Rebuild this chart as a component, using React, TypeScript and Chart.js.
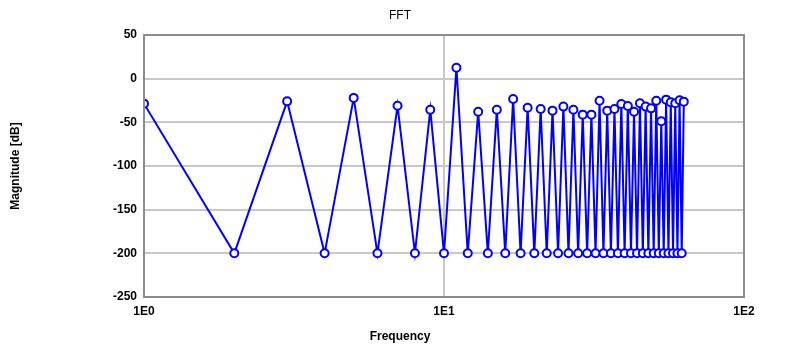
import React, { useEffect, useRef } from "react";
import { Chart, registerables } from "chart.js";

Chart.register(...registerables);

const frequencies = [
  1, 2, 3, 4, 5, 6, 7, 8, 9, 10, 11, 12, 13, 14, 15, 16, 17, 18, 19, 20, 21,
  22, 23, 24, 25, 26, 27, 28, 29, 30, 31, 32, 33, 34, 35, 36, 37, 38, 39, 40,
  41, 42, 43, 44, 45, 46, 47, 48, 49, 50, 51, 52, 53, 54, 55, 56, 57, 58, 59,
  60, 61, 62, 63,
];

const magnitudes = [
  -28.6, -200, -26, -200, -22, -200, -31, -200, -35.5, -200, 12.6, -200,
  -37.8, -200, -35.5, -200, -23.3, -200, -33.2, -200, -34.7, -200, -36.6,
  -200, -32, -200, -35.5, -200, -41.2, -200, -41.2, -200, -25.2, -200, -36.6,
  -200, -34.7, -200, -29, -200, -31.3, -200, -37.8, -200, -28.2, -200, -32,
  -200, -34, -200, -25.2, -200, -48.8, -200, -24, -200, -27, -200, -28.2,
  -200, -24.8, -200, -26.3,
];

const xTickValues = [1, 10, 100];
const xTickLabels = ["1E0", "1E1", "1E2"];

const chartTitle = "FFT";
const xTitle = "Frequency";
const yTitle = "Magnitude [dB]";

const FONT = "'Liberation Sans', Arial, sans-serif";

const decorPlugin = {
  id: "decor",
  afterDraw(chart: any) {
    const { ctx, chartArea } = chart;
    ctx.save();
    ctx.strokeStyle = "#8c8c8c";
    ctx.lineWidth = 2;
    ctx.strokeRect(
      chartArea.left,
      chartArea.top,
      chartArea.right - chartArea.left,
      chartArea.bottom - chartArea.top
    );
    ctx.fillStyle = "#000";
    ctx.textAlign = "center";
    ctx.textBaseline = "middle";
    ctx.font = `12px ${FONT}`;
    ctx.fillText(chartTitle, 400, 16);
    ctx.font = `bold 12px ${FONT}`;
    ctx.fillText(xTitle, 400, 337);
    ctx.translate(16, 166);
    ctx.rotate(-Math.PI / 2);
    ctx.fillText(yTitle, 0, 0);
    ctx.restore();
  },
};

export default function App() {
  const canvasRef = useRef<HTMLCanvasElement | null>(null);

  useEffect(() => {
    document.body.style.margin = "0";
    const canvas = canvasRef.current;
    if (!canvas) return;
    const chart = new Chart(canvas, {
      type: "line",
      data: {
        datasets: [
          {
            data: frequencies.map((f, i) => ({ x: f, y: magnitudes[i] })),
            borderColor: "#0000ff",
            borderWidth: 2,
            backgroundColor: "#ffffff",
            pointBorderColor: "#0000ff",
            pointBackgroundColor: "#ffffff",
            pointBorderWidth: 2,
            pointRadius: 4,
            tension: 0,
            fill: false,
          },
        ],
      },
      options: {
        animation: false,
        responsive: false,
        maintainAspectRatio: false,
        layout: { padding: { top: 35, right: 56, left: 0, bottom: 0 } },
        plugins: {
          legend: { display: false },
          tooltip: { enabled: false },
          title: { display: false },
        },
        scales: {
          x: {
            type: "logarithmic",
            min: 1,
            max: 100,
            afterBuildTicks: (scale: any) => {
              scale.ticks = xTickValues.map((v) => ({ value: v }));
            },
            afterFit: (scale: any) => {
              scale.height = 53;
            },
            ticks: {
              autoSkip: false,
              maxRotation: 0,
              color: "#000",
              font: { family: FONT, size: 12, weight: "bold" },
              padding: 7,
              callback: (value: any) => {
                const idx = xTickValues.indexOf(Number(value));
                return idx >= 0 ? xTickLabels[idx] : "";
              },
            },
            grid: {
              color: "#c8c8c8",
              lineWidth: 2,
              drawTicks: false,
            },
            border: { display: false },
          },
          y: {
            type: "linear",
            min: -250,
            max: 50,
            afterFit: (scale: any) => {
              scale.width = 144;
            },
            ticks: {
              stepSize: 50,
              color: "#000",
              font: { family: FONT, size: 12, weight: "bold" },
              padding: 7,
            },
            grid: {
              color: "#c8c8c8",
              lineWidth: 2,
              drawTicks: false,
            },
            border: { display: false },
          },
        },
      },
      plugins: [decorPlugin],
    } as any);
    return () => chart.destroy();
  }, []);

  return (
    <div style={{ position: "absolute", left: 0, top: 0, width: 800, height: 350 }}>
      <canvas ref={canvasRef} width={800} height={350} style={{ width: 800, height: 350 }} />
    </div>
  );
}
